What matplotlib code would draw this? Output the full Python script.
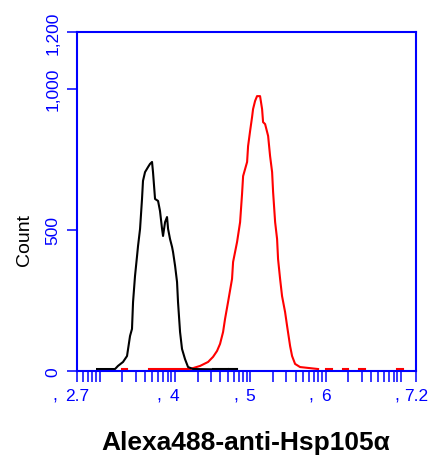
import matplotlib.pyplot as plt
import numpy as np
from matplotlib.ticker import FixedLocator

plt.rcParams['font.family'] = ['Liberation Sans', 'DejaVu Sans']

# log10 of fluorescence intensity and counts
black_log = [2.966, 3.205, 3.244, 3.311, 3.364, 3.404, 3.430, 3.444, 3.470, 3.497,
             3.510, 3.537, 3.563, 3.576, 3.603, 3.643, 3.669, 3.696, 3.709, 3.736,
             3.776, 3.802, 3.829, 3.842, 3.869, 3.895, 3.909, 3.935, 3.962, 3.975,
             4.002, 4.028, 4.041, 4.068, 4.094, 4.134, 4.174, 4.240, 4.500]
black_cnt = [7, 7, 18, 32, 53, 124, 149, 244, 336, 407,
             442, 503, 609, 673, 704, 722, 733, 740, 704, 609,
             602, 566, 503, 478, 527, 545, 503, 467, 439, 421,
             372, 315, 244, 138, 78, 42, 14, 7, 6]

red_log = [4.201, 4.334, 4.440, 4.506, 4.559, 4.599, 4.639, 4.665, 4.705, 4.758,
           4.772, 4.825, 4.865, 4.891, 4.905, 4.958, 4.971, 4.998, 5.024, 5.037,
           5.064, 5.090, 5.130, 5.157, 5.170, 5.197, 5.237, 5.263, 5.290, 5.303,
           5.330, 5.356, 5.369, 5.396, 5.422, 5.462, 5.489, 5.529, 5.555, 5.595,
           5.661, 5.900]
red_cnt = [7, 18, 32, 50, 71, 96, 138, 184, 244, 326,
           386, 457, 527, 627, 690, 740, 796, 850, 899, 927,
           956, 973, 973, 927, 881, 874, 832, 761, 704, 634,
           527, 467, 396, 326, 265, 209, 159, 88, 53, 25,
           14, 7]

# sparse low-count bins (start, end in log10) near the baseline
red_bits = [(3.30, 3.37), (3.65, 4.20), (6.00, 6.08), (6.23, 6.30), (6.44, 6.52), (6.95, 7.03)]
black_bits = [(4.50, 4.70), (4.72, 4.82)]
bit_cnt = 6

xticks_log = [2.7, 4, 5, 6, 7.2]
xtick_labels = ['2.7', '4', '5', '6', '7.2']
comma_dx = [-22, -16, -14, -15, -19]   # px left of the tick for the stray comma
yticks = [0, 500, 1000, 1200]
ytick_labels = ['0', '500', '1,000', '1,200']

blue = '#0000ff'

fig = plt.figure(figsize=(4.33, 4.60), dpi=100)
ax = fig.add_axes([77/433, 1 - 372/460, 339/433, 339/460])

for a, b in red_bits:
    ax.plot([10**a, 10**b], [bit_cnt, bit_cnt], color='red', lw=1.5)
for a, b in black_bits:
    ax.plot([10**a, 10**b], [bit_cnt, bit_cnt], color='black', lw=1.5)
ax.plot(10**np.array(red_log), red_cnt, color='red', lw=1.5)
ax.plot(10**np.array(black_log), black_cnt, color='black', lw=1.5)

ax.set_xscale('log')
ax.set_xlim(10**2.7, 10**7.2)
ax.set_ylim(0, 1200)

for s in ax.spines.values():
    s.set_color(blue)
    s.set_linewidth(1.5)

minor = [m * 10**k for k in range(2, 8) for m in range(1, 10)]
minor = [v for v in minor if 10**2.7 <= v <= 10**7.2]
ax.xaxis.set_major_locator(FixedLocator([10**v for v in xticks_log]))
ax.set_xticklabels(xtick_labels)
ax.xaxis.set_minor_locator(FixedLocator(minor))
ax.xaxis.set_minor_formatter(plt.NullFormatter())
ax.tick_params(axis='x', which='both', direction='out', length=8, width=1.1,
               color=blue, labelcolor=blue, labelsize=12.5, pad=4)

for v, dx in zip(xticks_log, comma_dx):
    ax.annotate(',', xy=(10**v, 0), xycoords=('data', 'axes fraction'),
                xytext=(dx / 1.39, -17), textcoords='offset points',
                ha='center', va='center', color=blue, fontsize=13)

ax.set_yticks(yticks)
ax.set_yticklabels(ytick_labels, rotation=90, va='center')
ax.tick_params(axis='y', direction='out', length=7, width=1.1,
               color=blue, labelcolor=blue, labelsize=12.5, pad=5)

fig.text(24/433, 1 - 240/460, 'Count', rotation=90, ha='center', va='center', fontsize=14)
fig.text(246/433, 1 - 443/460, 'Alexa488-anti-Hsp105\u03b1', ha='center', va='center',
         fontsize=19, fontweight='bold')

fig.savefig('out.png', dpi=100)
